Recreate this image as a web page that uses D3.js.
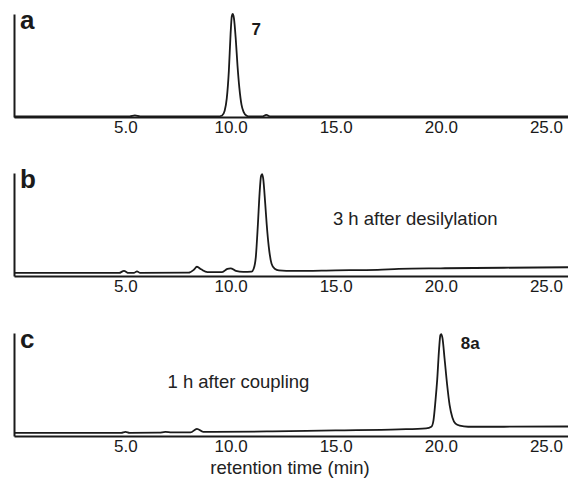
<!DOCTYPE html>
<html>
<head>
<meta charset="utf-8">
<script src="https://cdn.jsdelivr.net/npm/d3@7"></script>
<style>
  body { margin: 0; background: #fff; }
  svg { display: block; font-family: "Liberation Sans", Arial, Helvetica, sans-serif; }
</style>
</head>
<body>
<div id="chart"></div>
<script>
// retention time ticks (min)
const tickValues = [5, 10, 15, 20, 25];

// panel letters and notes
const panelLetters = ["a", "b", "c"];
const peakLabels = [
  { panel: 0, t: 11.0, v: 80, text: "7" },
  { panel: 2, t: 20.95, v: 84, text: "8a" }
];
const notes = [
  { panel: 1, t: 14.87, v: 50, text: "3 h after desilylation" },
  { panel: 2, t: 7.0, v: 47, text: "1 h after coupling" }
];

// traces: [retention time, signal % of full height]
const traceA = [
  [-0.3, 0.5], [5.2, 0.5], [5.45, 1.5], [5.7, 0.5], [9.4, 0.5], [9.6, 1.5],
  [9.72, 6], [9.82, 18], [9.92, 45], [10.0, 80], [10.06, 98], [10.1, 100],
  [10.16, 96], [10.25, 75], [10.33, 50], [10.42, 28], [10.52, 12], [10.62, 5],
  [10.75, 1.5], [10.9, 0.5], [11.5, 0.5], [11.7, 2], [11.9, 0.5], [26.05, 0.5]
];
const traceB = [
  [-0.3, 3], [4.7, 3], [4.93, 5], [5.15, 3], [5.4, 3], [5.55, 4.5], [5.7, 3],
  [8.0, 3.2], [8.25, 6], [8.4, 9], [8.6, 6.5], [8.9, 3.8], [9.6, 3.8], [9.85, 7],
  [10.0, 7.5], [10.25, 5], [10.6, 4], [11.0, 4.2], [11.1, 7], [11.2, 18],
  [11.3, 50], [11.38, 80], [11.45, 97], [11.5, 99], [11.55, 95], [11.65, 70],
  [11.72, 50], [11.82, 28], [11.95, 12], [12.1, 7], [12.3, 5.5], [13, 5],
  [15, 5.5], [17, 6], [18, 7], [20, 7.5], [23, 8], [26.05, 8.5]
];
const traceC = [
  [-0.3, 3], [4.8, 3], [5.0, 4], [5.2, 3], [6.6, 3.2], [6.9, 4], [7.2, 3.5],
  [8.1, 3.5], [8.4, 7], [8.7, 4], [9.2, 4], [12, 4.5], [15, 5.5], [18, 6.5],
  [19.3, 7.5], [19.55, 9], [19.65, 15], [19.75, 35], [19.83, 55], [19.92, 85],
  [19.98, 98], [20.02, 99], [20.08, 95], [20.18, 75], [20.3, 50], [20.42, 30],
  [20.55, 18], [20.7, 12], [20.9, 10], [21.3, 9], [23, 9], [26.05, 9.2]
];
const traces = [traceA, traceB, traceC];

const width = 568, height = 481;
const axisY = [117, 276, 436];
const panelH = 103;
const ink = "#1a1a1a";

const svg = d3.select("#chart").append("svg")
  .attr("width", width)
  .attr("height", height);

const x = d3.scaleLinear().domain([-0.3, 26.05]).range([14, 568]);

const line = d3.line().curve(d3.curveMonotoneX);

traces.forEach((data, i) => {
  const y = d3.scaleLinear().domain([0, 100]).range([axisY[i], axisY[i] - panelH]);
  const g = svg.append("g");

  // x axis, no tick marks
  const xa = g.append("g")
    .attr("transform", `translate(0,${axisY[i]})`)
    .call(d3.axisBottom(x).tickValues(tickValues).tickFormat(d3.format(".1f"))
      .tickSize(0).tickPadding(4).tickSizeOuter(0));
  xa.select(".domain").attr("stroke", ink).attr("stroke-width", 2);
  xa.selectAll("text")
    .attr("fill", ink)
    .style("font-size", "17px")
    .style("font-family", "'Liberation Sans', Arial, sans-serif");

  // y axis, just the line
  const ya = g.append("g")
    .attr("transform", `translate(${x.range()[0]},0)`)
    .call(d3.axisLeft(y).tickValues([]).tickSizeOuter(0));
  ya.select(".domain").attr("stroke", ink).attr("stroke-width", 2);

  g.append("path")
    .datum(data)
    .attr("fill", "none")
    .attr("stroke", ink)
    .attr("stroke-width", 1.8)
    .attr("stroke-linejoin", "round")
    .attr("d", line.x(d => x(d[0])).y(d => y(d[1])));

  g.append("text")
    .attr("x", 20)
    .attr("y", axisY[i] - panelH + 15)
    .attr("fill", ink)
    .attr("font-weight", "bold")
    .attr("font-size", 26)
    .text(panelLetters[i]);

  peakLabels.filter(p => p.panel === i).forEach(p => {
    g.append("text")
      .attr("x", x(p.t))
      .attr("y", y(p.v))
      .attr("fill", ink)
      .attr("font-weight", "bold")
      .attr("font-size", 17)
      .text(p.text);
  });

  notes.filter(n => n.panel === i).forEach(n => {
    g.append("text")
      .attr("x", x(n.t))
      .attr("y", y(n.v))
      .attr("fill", "#222")
      .attr("font-size", 18.5)
      .text(n.text);
  });
});

svg.append("text")
  .attr("x", 290)
  .attr("y", 474)
  .attr("text-anchor", "middle")
  .attr("fill", "#222")
  .attr("font-size", 18.5)
  .text("retention time (min)");
</script>
</body>
</html>
